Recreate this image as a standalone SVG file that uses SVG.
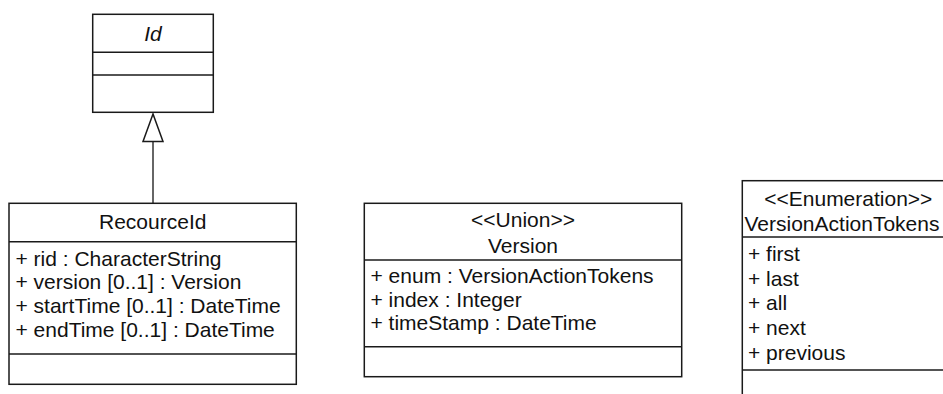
<svg xmlns="http://www.w3.org/2000/svg" width="943" height="394" viewBox="0 0 943 394">
<style>
.box{fill:#fff;stroke:#1a1a1a;stroke-width:1.5}
.sep{stroke:#1a1a1a;stroke-width:1.5}
text{font-family:"Liberation Sans",Arial,sans-serif;font-size:21px;fill:#111}
.c{text-anchor:middle}
.i{font-style:italic}
</style>
<rect width="943" height="394" fill="#fff"/>
<g id="connectors">
<line x1="153" y1="141.5" x2="153" y2="203.3" stroke="#333" stroke-width="1.5"/>
<polygon points="153,114 143,141.5 163,141.5" fill="#fff" stroke="#1a1a1a" stroke-width="1.5"/>
</g>
<g id="Id">
<rect class="box" x="92.7" y="14.3" width="120.6" height="98"/>
<line class="sep" x1="92.7" y1="52.2" x2="213.3" y2="52.2"/>
<line class="sep" x1="92.7" y1="75" x2="213.3" y2="75"/>
<text class="c i" x="153" y="40.5">Id</text>
</g>
<g id="RecourceId">
<rect class="box" x="9" y="203.3" width="287.3" height="181"/>
<line class="sep" x1="9" y1="241.7" x2="296.3" y2="241.7"/>
<line class="sep" x1="9" y1="354" x2="296.3" y2="354"/>
<text class="c" x="152.7" y="229">RecourceId</text>
<text x="15.5" y="265.5">+ rid : CharacterString</text>
<text x="15.5" y="289.2">+ version [0..1] : Version</text>
<text x="15.5" y="312.9">+ startTime [0..1] : DateTime</text>
<text x="15.5" y="336.6">+ endTime [0..1] : DateTime</text>
</g>
<g id="Version">
<rect class="box" x="364.3" y="203.3" width="317.4" height="173.4"/>
<line class="sep" x1="364.3" y1="260" x2="681.7" y2="260"/>
<line class="sep" x1="364.3" y1="346.7" x2="681.7" y2="346.7"/>
<text class="c" x="523" y="227">&lt;&lt;Union&gt;&gt;</text>
<text class="c" x="523" y="252.5">Version</text>
<text x="370.5" y="283">+ enum : VersionActionTokens</text>
<text x="370.5" y="306.6">+ index : Integer</text>
<text x="370.5" y="330.2">+ timeStamp : DateTime</text>
</g>
<g id="VersionActionTokens">
<rect class="box" x="742.3" y="180.7" width="212" height="230"/>
<line class="sep" x1="742.3" y1="237" x2="954.3" y2="237"/>
<line class="sep" x1="742.3" y1="370" x2="954.3" y2="370"/>
<text class="c" x="848.3" y="206">&lt;&lt;Enumeration&gt;&gt;</text>
<text x="744.5" y="231">VersionActionTokens</text>
<text x="748" y="260.7">+ first</text>
<text x="748" y="285.5">+ last</text>
<text x="748" y="310.3">+ all</text>
<text x="748" y="335.1">+ next</text>
<text x="748" y="359.9">+ previous</text>
</g>
</svg>
